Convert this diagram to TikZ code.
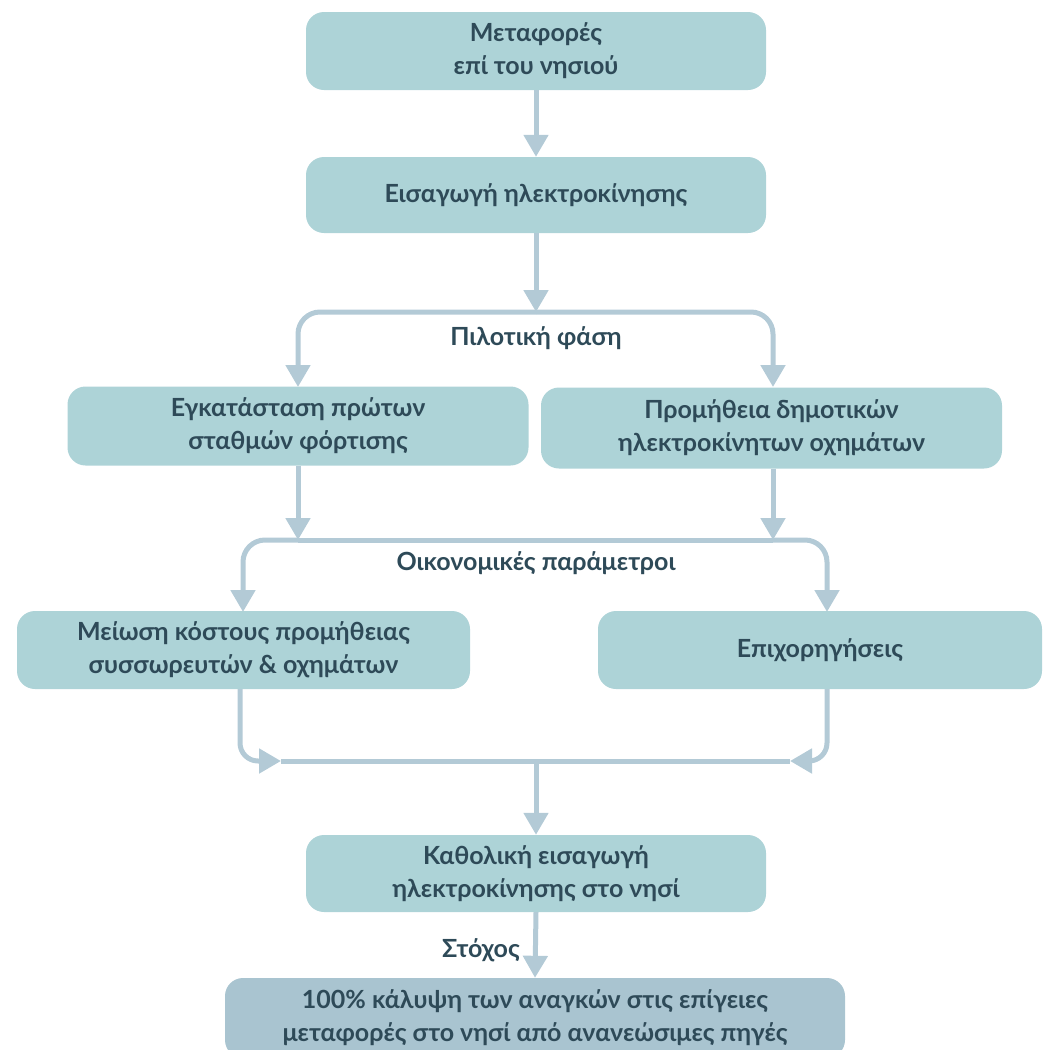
\documentclass[tikz,border=0pt]{standalone}
\usepackage{fontspec}
\setmainfont{Lato}[BoldFont={* Bold}]
\usetikzlibrary{arrows.meta}
\definecolor{boxfill}{HTML}{ADD3D7}
\definecolor{goalfill}{HTML}{A9C4D0}
\definecolor{txt}{HTML}{2E4A58}
\definecolor{arrc}{HTML}{B3CAD6}
\tikzset{
  box/.style={draw=none, fill=boxfill, rounded corners=18pt, align=center,
    text=txt, font=\fontsize{25}{33}\selectfont\bfseries, inner sep=0pt},
  lbl/.style={text=txt, font=\fontsize{25}{33}\selectfont\bfseries, inner sep=0pt},
  conn/.style={draw=arrc, line width=5pt},
  arr/.style={conn, -{Triangle[width=24pt,length=22pt]}},
}
\begin{document}
\begin{tikzpicture}[x=1pt,y=-1pt]
\useasboundingbox (0,0) rectangle (1043,1050);
\clip (0,0) rectangle (1043,1050);
\node[box, minimum width=460pt, minimum height=78pt] (b1) at (536,51) {Μεταφορές\\επί του νησιού};
\node[box, minimum width=460pt, minimum height=76pt] (b2) at (536,195) {Εισαγωγή ηλεκτροκίνησης};
\node[box, minimum width=461pt, minimum height=79pt] (b3) at (298,426) {Εγκατάσταση πρώτων\\σταθμών φόρτισης};
\node[box, minimum width=461pt, minimum height=81pt] (b4) at (771.5,428) {Προμήθεια δημοτικών\\ηλεκτροκίνητων οχημάτων};
\node[box, minimum width=453pt, minimum height=78pt] (b5) at (243.5,650) {Μείωση κόστους προμήθειας\\συσσωρευτών \& οχημάτων};
\node[box, minimum width=444pt, minimum height=78pt] (b6) at (820,650) {Επιχορηγήσεις};
\node[box, minimum width=460pt, minimum height=77pt] (b7) at (536,873.5) {Καθολική εισαγωγή\\ηλεκτροκίνησης στο νησί};
\node[box, fill=goalfill, minimum width=620pt, minimum height=80pt] (b8) at (535,1018) {100\% κάλυψη των αναγκών στις επίγειες\\μεταφορές στο νησί από ανανεώσιμες πηγές};
% labels
\node[lbl] (l1) at (536,338) {Πιλοτική φάση};
\node[lbl] (l2) at (536,563) {Οικονομικές παράμετροι};
\node[lbl, anchor=east] (l3) at (520,950) {Στόχος};
% coordinates
\coordinate (s1) at (536,312);
\coordinate (s1L) at (298,387);
\coordinate (s1R) at (773,387);
\coordinate (t3) at (298,540);
\coordinate (t4) at (773,540);
\coordinate (d5) at (243,612);
\coordinate (d6) at (827,612);
\coordinate (mL) at (281,761);
\coordinate (mR) at (790,761);
\coordinate (mC) at (536,761);
\coordinate (u5) at (240,689);
\coordinate (u6) at (827,689);
% connectors
\draw[arr] (b1.south) -- (b2.north);
\draw[arr] (b2.south) -- (s1);
\draw[arr, rounded corners=22pt] (s1) -| (s1L);
\draw[arr, rounded corners=22pt] (s1) -| (s1R);
\draw[arr] (b3.south -| t3) -- (t3);
\draw[arr] (b4.south -| t4) -- (t4);
\draw[arr, rounded corners=22pt] (t3) -| (d5);
\draw[arr, rounded corners=22pt] (t4) -| (d6);
\draw[conn] (t3) -- (t4);
\draw[arr, rounded corners=18pt] (u5) |- (mL);
\draw[arr, rounded corners=18pt] (u6) |- (mR);
\draw[conn] (mL) -- (mR);
\draw[arr] (mC) -- (b7.north);
\draw[arr] (b7.south) -- (b8.north);
\end{tikzpicture}
\end{document}
